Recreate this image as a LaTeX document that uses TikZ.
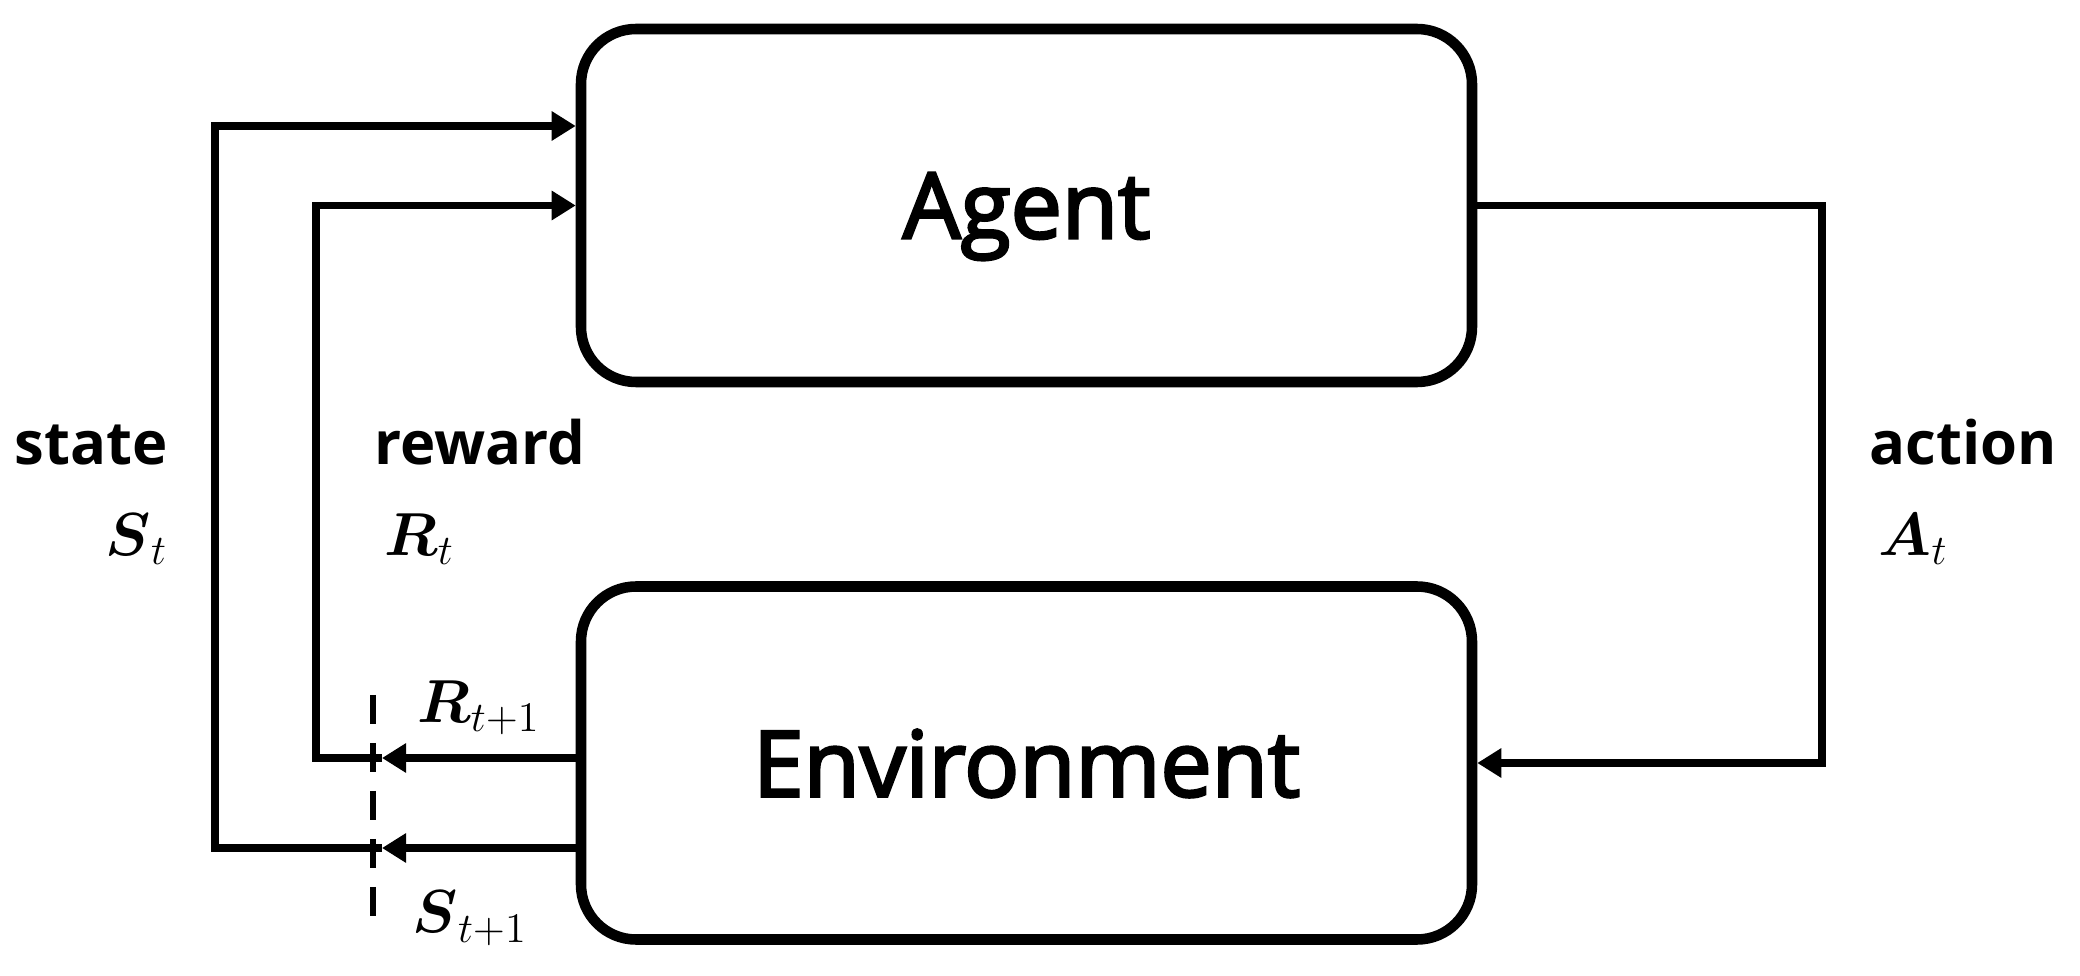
\documentclass[tikz,border=0pt]{standalone}
\usepackage{amsmath}
\usepackage{fontspec}
\setmainfont{Open Sans}
\newfontfamily\boxfont{Open Sans}[FakeBold=3]
\usetikzlibrary{
    positioning,
    arrows.meta
}

\begin{document}
\begin{tikzpicture}[
    box/.style={
        rounded corners=0.55cm,
        draw=black,
        line width=3pt,
        minimum width=8.91cm,
        minimum height=3.53cm,
        text depth=0pt,
        font=\boxfont\fontsize{26}{30}\selectfont
    },
    tag/.style={font=\fontsize{17}{20}\selectfont\bfseries, anchor=base, inner sep=0pt},
    sym/.style={font=\fontsize{16.5}{20}\selectfont, anchor=base west, inner sep=0pt},
    arrow/.style={line width=2.2pt, -{Triangle[length=2.4mm, width=2.8mm]}},
    cut/.style={line width=1.5pt, dash pattern=on 2.9mm off 1.9mm}
]

% Set bounding box to match the reference
\useasboundingbox (0,0) rectangle (20.8,9.75);

% ================= BLOCKS =================
\node[box] (agent) at (10.265,7.695) {Agent};
\node[box] (env) at (10.265,2.12) {Environment};

% ================= HELPER POINTS =================
\coordinate (stateX) at (2.15,0);
\coordinate (rewardX) at (3.16,0);
\coordinate (actionX) at (18.22,0);
\coordinate (sTip) at (3.82,1.27);
\coordinate (rTip) at (3.82,2.17);
\coordinate (cutTop) at (3.73,2.80);
\coordinate (cutBot) at (3.73,0.58);

% ================= FEEDBACK LOOPS =================
% state
\draw[arrow] (env.west |- sTip) -- (sTip);
\draw[arrow] (sTip) -- (sTip -| stateX) |- ([yshift=0.795cm]agent.west);

% reward
\draw[arrow] (env.west |- rTip) -- (rTip);
\draw[arrow] (rTip) -- (rTip -| rewardX) |- (agent.west);

% action
\draw[arrow] (agent.east) -- (agent.east -| actionX) |- (env.east);

% time step boundary
\draw[cut] (cutTop) -- (cutBot);

% ================= LABELS =================
\node[tag] (stateLbl) at (0.91,5.10) {state};
\node[tag] (rewardLbl) at (4.80,5.10) {reward};
\node[tag] (actionLbl) at (19.63,5.10) {action};

\node[sym] (sNow) at (1.05,4.20) {$\boldsymbol{S}_t$};
\node[sym] (rNow) at (3.84,4.20) {$\boldsymbol{R}_t$};
\node[sym] (aNow) at (18.78,4.20) {$\boldsymbol{A}_t$};
\node[sym] (rNext) at (4.17,2.53) {$\boldsymbol{R}_{t+1}$};
\node[sym] (sNext) at (4.12,0.42) {$\boldsymbol{S}_{t+1}$};

\end{tikzpicture}
\end{document}
